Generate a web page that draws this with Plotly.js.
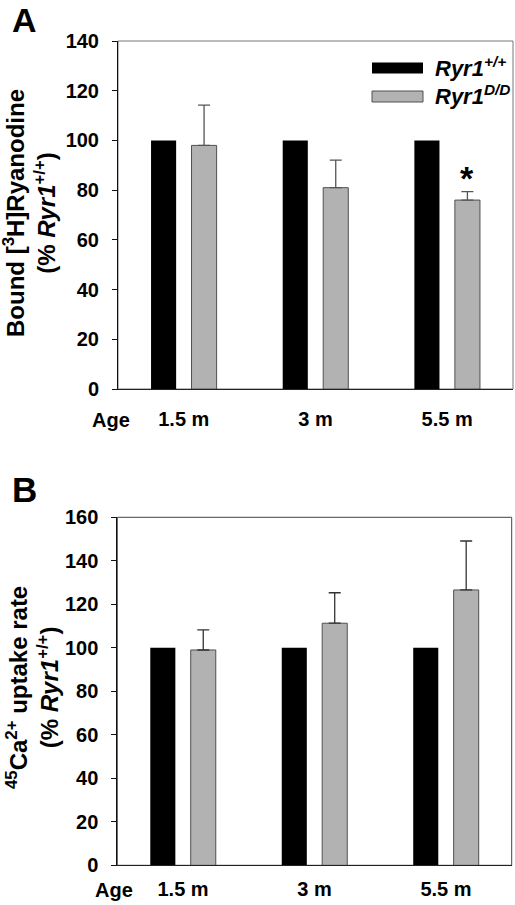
<!DOCTYPE html>
<html><head><meta charset="utf-8">
<script src="https://cdn.plot.ly/plotly-3.0.1.min.js"></script>
<style>html,body{margin:0;padding:0;background:#fff}#chart{width:515px;height:905px}</style>
</head><body><div id="chart"></div>
<script>
// ---- data ----
const ages = ['1.5 m', '3 m', '5.5 m'];
const seriesNames = ['Ryr1<sup>+/+</sup>', 'Ryr1<sup>D/D</sup>'];
const bindingWT = [100, 100, 100];
const bindingDD = [98, 81, 76];
const bindingDDerr = [16.2, 11.1, 3.4];
const uptakeWT = [100, 100, 100];
const uptakeDD = [99, 111.3, 126.6];
const uptakeDDerr = [9.2, 14, 22.5];
const yTicksA = [0, 20, 40, 60, 80, 100, 120, 140];
const yTicksB = [0, 20, 40, 60, 80, 100, 120, 140, 160];

const W = 515, H = 905;
const FONT = 'Liberation Sans, Arial, Helvetica, sans-serif';
const px = v => v / W;
const py = v => 1 - v / H;
const zeros = ages.map(() => 0);

const black = '#000000', gray = '#b2b2b2', grayLine = '#505050';

const traces = [
  {type: 'bar', x: ages, y: bindingWT, name: seriesNames[0], xaxis: 'x', yaxis: 'y',
   marker: {color: black, line: {width: 0}}},
  {type: 'bar', x: ages, y: bindingDD, name: seriesNames[1], xaxis: 'x', yaxis: 'y',
   marker: {color: gray, line: {color: grayLine, width: 1}},
   error_y: {type: 'data', symmetric: false, array: bindingDDerr, arrayminus: zeros,
             color: '#555', thickness: 1.3, width: 6}},
  {type: 'bar', x: ages, y: uptakeWT, name: seriesNames[0], xaxis: 'x2', yaxis: 'y2',
   marker: {color: black, line: {width: 0}}},
  {type: 'bar', x: ages, y: uptakeDD, name: seriesNames[1], xaxis: 'x2', yaxis: 'y2',
   marker: {color: gray, line: {color: grayLine, width: 1}},
   error_y: {type: 'data', symmetric: false, array: uptakeDDerr, arrayminus: zeros,
             color: '#333', thickness: 1.3, width: 6}}
];

const tickFont = {family: FONT, size: 20, color: '#000', weight: 'bold'};

function xAxis(domain, anchor, standoff) {
  return {domain: domain, anchor: anchor, type: 'category', categoryarray: ages,
    showline: true, linecolor: '#222', linewidth: 1, ticks: '', showgrid: false,
    zeroline: false, tickfont: tickFont, ticklabelstandoff: standoff, fixedrange: true};
}
function yAxis(domain, anchor, range, ticks) {
  return {domain: domain, anchor: anchor, range: range, tickvals: ticks, ticktext: ticks.map(String),
    showline: true, linecolor: '#111', linewidth: 1, ticks: 'outside', ticklen: 5,
    tickcolor: '#111', tickwidth: 1, showgrid: false, zeroline: false,
    tickfont: tickFont, ticklabelstandoff: 9, fixedrange: true};
}

const titleFont = {family: FONT, size: 24, color: '#000', weight: 'bold'};

const annotations = [
  {text: 'A', xref: 'paper', yref: 'paper', x: px(24), y: 1, xanchor: 'center', yanchor: 'top',
   borderpad: 0, showarrow: false, font: {family: FONT, size: 34, color: '#000', weight: 'bold'}},
  {text: 'B', xref: 'paper', yref: 'paper', x: px(24), y: py(489), xanchor: 'center', yanchor: 'middle',
   showarrow: false, font: {family: FONT, size: 35, color: '#000', weight: 'bold'}},
  {text: 'Bound [<sup>3</sup>H]Ryanodine<br>(% <i>Ryr1</i><sup>+/+</sup>)', textangle: -90,
   xref: 'paper', yref: 'paper', x: px(29), y: py(213), xanchor: 'center', yanchor: 'middle',
   borderpad: 0, showarrow: false, font: titleFont},
  {text: '<sup>45</sup>Ca<sup>2+</sup> uptake rate<br>(% <i>Ryr1</i><sup>+/+</sup>)', textangle: -90,
   xref: 'paper', yref: 'paper', x: px(32), y: py(688), xanchor: 'center', yanchor: 'middle',
   borderpad: 0, showarrow: false, font: titleFont},
  {text: 'Age', xref: 'paper', yref: 'paper', x: px(111), y: py(420), xanchor: 'center', yanchor: 'middle',
   showarrow: false, font: tickFont},
  {text: 'Age', xref: 'paper', yref: 'paper', x: px(114), y: py(890), xanchor: 'center', yanchor: 'middle',
   showarrow: false, font: tickFont},
  {text: '*', xref: 'x', yref: 'y', x: ages[2], y: bindingDD[2] + bindingDDerr[2], xshift: 20, yshift: 14,
   xanchor: 'center', yanchor: 'middle', showarrow: false,
   font: {family: FONT, size: 34, color: '#000', weight: 'bold'}},
  {text: '<i>' + seriesNames[0] + '</i>', xref: 'paper', yref: 'paper', x: px(433), y: py(67),
   xanchor: 'left', yanchor: 'middle', showarrow: false,
   font: {family: FONT, size: 22, color: '#000', weight: 'bold'}},
  {text: '<i>' + seriesNames[1] + '</i>', xref: 'paper', yref: 'paper', x: px(433), y: py(95),
   xanchor: 'left', yanchor: 'middle', showarrow: false,
   font: {family: FONT, size: 22, color: '#000', weight: 'bold'}}
];

const shapes = [
  {type: 'rect', xref: 'x domain', yref: 'y domain', x0: 0, x1: 1, y0: 0, y1: 1,
   line: {color: '#777', width: 1}, layer: 'below'},
  {type: 'rect', xref: 'x2 domain', yref: 'y2 domain', x0: 0, x1: 1, y0: 0, y1: 1,
   line: {color: '#444', width: 1}, layer: 'below'},
  {type: 'rect', xref: 'paper', yref: 'paper', x0: px(372), x1: px(423), y0: py(73.5), y1: py(62.5),
   fillcolor: black, line: {width: 0}},
  {type: 'rect', xref: 'paper', yref: 'paper', x0: px(372), x1: px(423), y0: py(102), y1: py(91),
   fillcolor: gray, line: {color: grayLine, width: 1}}
];

const layout = {
  width: W, height: H, margin: {l: 0, r: 0, t: 0, b: 0},
  paper_bgcolor: '#fff', plot_bgcolor: '#fff', showlegend: false,
  barmode: 'group', bargap: 0.385, bargroupgap: 0.38,
  font: {family: FONT, color: '#000'},
  xaxis: xAxis([px(118), px(513)], 'y', 12),
  yaxis: yAxis([py(389), py(41)], 'x', [0, 140], yTicksA),
  xaxis2: xAxis([px(117.3), px(511.7)], 'y2', 6),
  yaxis2: yAxis([py(865.3), py(517.3)], 'x2', [0, 160], yTicksB),
  annotations: annotations, shapes: shapes
};

Plotly.newPlot('chart', traces, layout, {staticPlot: true, displayModeBar: false});
</script></body></html>
